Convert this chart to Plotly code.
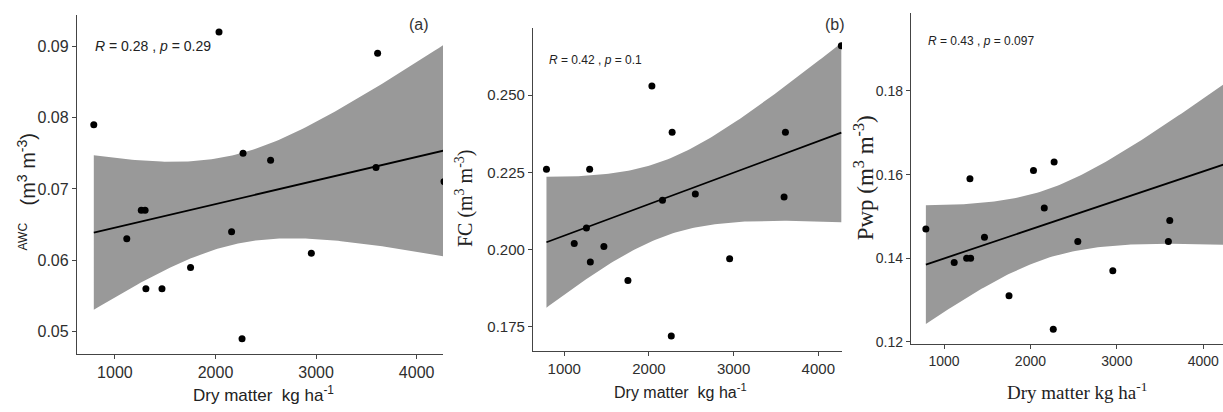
import numpy as np
import plotly.graph_objects as go

# ---- data ----
dry_matter = [790, 1118, 1262, 1300, 1308, 1468, 1752, 2035, 2160, 2264, 2274, 2548, 2953, 3596, 3612, 4272]
awc = [0.079, 0.063, 0.067, 0.067, 0.056, 0.056, 0.059, 0.092, 0.064, 0.049, 0.075, 0.074, 0.061, 0.073, 0.089, 0.071]
fc = [0.226, 0.202, 0.207, 0.226, 0.196, 0.201, 0.190, 0.253, 0.216, 0.172, 0.238, 0.218, 0.197, 0.217, 0.238, 0.266]
pwp = [0.147, 0.139, 0.140, 0.159, 0.140, 0.145, 0.131, 0.161, 0.152, 0.123, 0.163, 0.144, 0.137, 0.144, 0.149, 0.195]

stat_labels = ["<i>R</i> = 0.28 , <i>p</i> = 0.29",
               "<i>R</i> = 0.42 , <i>p</i> = 0.1",
               "<i>R</i> = 0.43 , <i>p</i> = 0.097"]
panel_labels = ["(a)", "(b)"]
x_ticks = [1000, 2000, 3000, 4000]
y_ticks_a = [0.05, 0.06, 0.07, 0.08, 0.09]
y_ticks_b = [0.175, 0.200, 0.225, 0.250]
y_ticks_c = [0.12, 0.14, 0.16, 0.18]

W, H = 1223, 412
T_CRIT = 2.145  # t(0.975, df=14)


def px(x):
    return x / W


def py(y):
    return 1 - y / H


def fit_band(x, y):
    x = np.asarray(x, float)
    y = np.asarray(y, float)
    n = len(x)
    b, a = np.polyfit(x, y, 1)
    resid = y - (a + b * x)
    s = np.sqrt(np.sum(resid ** 2) / (n - 2))
    sxx = np.sum((x - x.mean()) ** 2)
    grid = np.linspace(x.min(), x.max(), 120)
    yhat = a + b * grid
    se = s * np.sqrt(1 / n + (grid - x.mean()) ** 2 / sxx)
    return grid, yhat, yhat - T_CRIT * se, yhat + T_CRIT * se


fig = go.Figure()

panels = [
    dict(y=awc, xa="x", ya="y"),
    dict(y=fc, xa="x2", ya="y2"),
    dict(y=pwp, xa="x3", ya="y3"),
]
for p in panels:
    g, yh, lo, hi = fit_band(dry_matter, p["y"])
    fig.add_trace(go.Scatter(x=np.concatenate([g, g[::-1]]), y=np.concatenate([hi, lo[::-1]]),
                             fill="toself", fillcolor="#999999", line=dict(width=0),
                             mode="lines", hoverinfo="skip", xaxis=p["xa"], yaxis=p["ya"]))
    fig.add_trace(go.Scatter(x=g, y=yh, mode="lines", line=dict(color="black", width=1.8),
                             xaxis=p["xa"], yaxis=p["ya"]))
    fig.add_trace(go.Scatter(x=dry_matter, y=p["y"], mode="markers",
                             marker=dict(color="black", size=7), xaxis=p["xa"], yaxis=p["ya"]))

axcol = "#444444"
tickcol = "#2e2e2e"


def xaxis(dom, rng, anchor, size):
    return dict(domain=dom, range=rng, anchor=anchor, showgrid=False, zeroline=False,
                showline=True, linecolor=axcol, linewidth=1.3, ticks="outside", ticklen=4,
                tickcolor=axcol, tickwidth=1.2, tickvals=x_ticks,
                tickfont=dict(family="Liberation Sans, Arial", size=size, color=tickcol))


def yaxis(dom, rng, anchor, size, vals, fmt):
    return dict(domain=dom, range=rng, anchor=anchor, showgrid=False, zeroline=False,
                showline=True, linecolor=axcol, linewidth=1.3, ticks="outside", ticklen=4,
                tickcolor=axcol, tickwidth=1.2, tickvals=vals, tickformat=fmt,
                tickfont=dict(family="Liberation Sans, Arial", size=size, color=tickcol))


fig.update_layout(
    width=W, height=H, margin=dict(l=0, r=0, t=0, b=0),
    paper_bgcolor="white", plot_bgcolor="white", showlegend=False,
    xaxis=xaxis([px(77), px(443)], [623, 4262], "y", 16),
    yaxis=yaxis([py(359), py(15)], [0.0469, 0.0944], "x", 16, y_ticks_a, ".2f"),
    xaxis2=xaxis([px(533), px(842)], [631, 4280], "y2", 15),
    yaxis2=yaxis([py(356), py(28)], [0.1672, 0.2719], "x2", 15, y_ticks_b, ".3f"),
    xaxis3=xaxis([px(911), 1.0], [618, 4228], "y3", 14),
    yaxis3=yaxis([py(349), py(13)], [0.1195, 0.1987], "x3", 14, y_ticks_c, ".2f"),
)

ann = []
sans = "Liberation Sans, Arial"
serif = "Liberation Serif, Times New Roman"
txtcol = "#222222"
# stats labels
ann.append(dict(text=stat_labels[0], x=px(93), y=py(47), xanchor="left", yanchor="middle",
                font=dict(family=sans, size=14, color=txtcol)))
ann.append(dict(text=stat_labels[1], x=px(547), y=py(61), xanchor="left", yanchor="middle",
                font=dict(family=sans, size=12, color=txtcol)))
ann.append(dict(text=stat_labels[2], x=px(926), y=py(42), xanchor="left", yanchor="middle",
                font=dict(family=sans, size=12, color=txtcol)))
# panel labels
ann.append(dict(text=panel_labels[0], x=px(419), y=py(25), xanchor="center", yanchor="middle",
                font=dict(family=sans, size=16, color="#333333")))
ann.append(dict(text=panel_labels[1], x=px(835), y=py(25), xanchor="center", yanchor="middle",
                font=dict(family=sans, size=16, color="#333333")))
# y titles
ann.append(dict(text="AWC", x=px(23), y=py(240), textangle=-90, xanchor="center", yanchor="middle",
                font=dict(family=sans, size=12, color=txtcol)))
ann.append(dict(text="(m<sup>3</sup> m<sup>-3</sup>)", x=px(26), y=py(172), textangle=-90,
                xanchor="center", yanchor="middle", font=dict(family=sans, size=20, color=txtcol)))
ann.append(dict(text="FC (m<sup>3</sup> m<sup>-3</sup>)", x=px(464), y=py(201), textangle=-90,
                xanchor="center", yanchor="middle", font=dict(family=serif, size=20, color=txtcol)))
ann.append(dict(text="Pwp (m<sup>3</sup> m<sup>-3</sup>)", x=px(864), y=py(181), textangle=-90,
                xanchor="center", yanchor="middle", font=dict(family=serif, size=23, color=txtcol)))
# x titles
ann.append(dict(text="Dry matter  kg ha<sup>-1</sup>", x=px(263), y=py(400), xanchor="center",
                yanchor="middle", font=dict(family=sans, size=17, color=txtcol)))
ann.append(dict(text="Dry matter  kg ha<sup>-1</sup>", x=px(680), y=py(397), xanchor="center",
                yanchor="middle", font=dict(family=sans, size=16, color=txtcol)))
ann.append(dict(text="Dry matter kg ha<sup>-1</sup>", x=px(1077), y=py(397), xanchor="center",
                yanchor="middle", font=dict(family=serif, size=19, color=txtcol)))
for a in ann:
    a.update(xref="paper", yref="paper", showarrow=False)
fig.update_layout(annotations=ann)

fig.write_html("out.html")
